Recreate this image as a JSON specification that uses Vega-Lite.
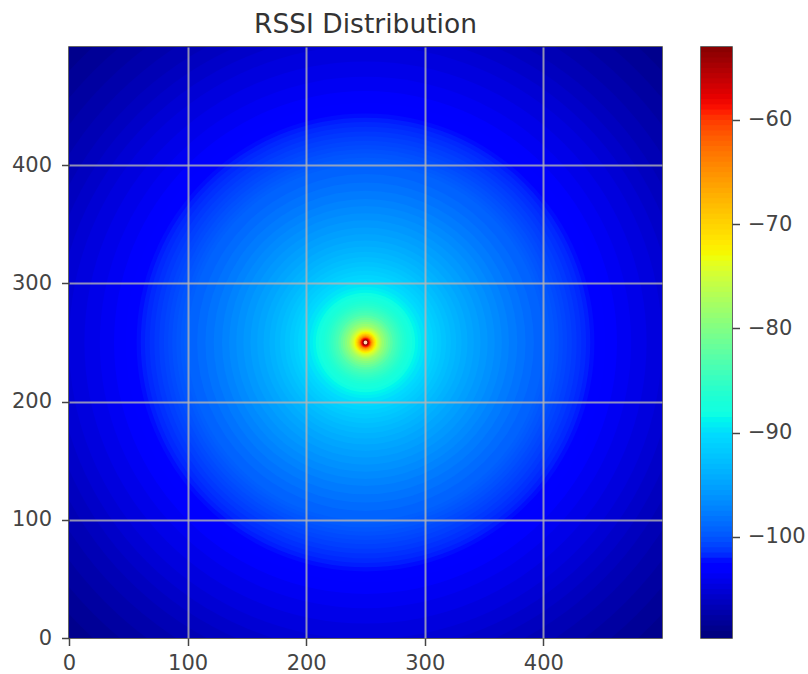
{"$schema":"https://vega.github.io/schema/vega-lite/v6.json","background":"white","padding":{"left":10,"top":10,"right":0,"bottom":0},"spacing":37,
"config":{"font":"DejaVu Sans","view":{"stroke":"#333333","strokeWidth":1.5},"title":{"font":"DejaVu Sans","fontSize":26.5,"fontWeight":"normal","color":"#333333","offset":9},
"axis":{"labelFont":"DejaVu Sans","labelFontSize":21,"labelColor":"#444444","tickColor":"#444444","tickSize":7.5,"tickWidth":1.5,"domain":false,"title":null,"labelPadding":9,"labelFlush":false,"labelAngle":0}},
"datasets":{"rings":[{"r":360,"v":-109.2},{"r":354,"v":-109},{"r":339,"v":-108.5},{"r":324,"v":-108},{"r":310,"v":-107.5},{"r":296,"v":-107},{"r":283,"v":-106.5},{"r":272,"v":-106},{"r":261,"v":-105.5},{"r":250,"v":-105},{"r":237,"v":-104.5},{"r":224,"v":-104},{"r":212,"v":-103.5},{"r":202,"v":-103},{"r":193,"v":-102.5},{"r":189.5,"v":-102.25},{"r":186,"v":-102},{"r":182,"v":-101.75},{"r":178,"v":-101.5},{"r":174,"v":-101.25},{"r":170,"v":-101},{"r":166.5,"v":-100.75},{"r":163,"v":-100.5},{"r":159.5,"v":-100.25},{"r":156,"v":-100},{"r":153,"v":-99.75},{"r":150,"v":-99.5},{"r":142,"v":-99},{"r":135,"v":-98.5},{"r":128,"v":-98},{"r":121,"v":-97.5},{"r":115,"v":-97},{"r":109,"v":-96.5},{"r":103,"v":-96},{"r":97,"v":-95.5},{"r":91.4,"v":-95},{"r":86,"v":-94.5},{"r":81,"v":-94},{"r":76.5,"v":-93.5},{"r":72,"v":-93},{"r":68,"v":-92.5},{"r":64,"v":-92},{"r":60.4,"v":-91.5},{"r":57,"v":-91},{"r":53.6,"v":-90.5},{"r":50.5,"v":-90},{"r":47,"v":-89.5},{"r":44.4,"v":-89},{"r":41.9,"v":-88.5},{"r":39.5,"v":-88},{"r":37.3,"v":-87.5},{"r":35.2,"v":-87},{"r":33.3,"v":-86.5},{"r":31.4,"v":-86},{"r":29.7,"v":-85.5},{"r":28,"v":-85},{"r":26.5,"v":-84.5},{"r":25,"v":-84},{"r":23,"v":-83},{"r":21,"v":-82},{"r":19.2,"v":-81},{"r":17.4,"v":-80},{"r":15.7,"v":-79},{"r":14,"v":-78},{"r":12.9,"v":-77},{"r":11.9,"v":-76},{"r":10.9,"v":-75},{"r":9.9,"v":-74},{"r":9,"v":-73},{"r":8.4,"v":-72},{"r":7.9,"v":-71},{"r":7.4,"v":-70},{"r":6.9,"v":-69},{"r":6.4,"v":-68},{"r":6,"v":-67},{"r":5.6,"v":-66},{"r":5.2,"v":-65},{"r":4.9,"v":-64},{"r":4.6,"v":-63},{"r":4.3,"v":-62},{"r":4.1,"v":-61},{"r":3.9,"v":-60},{"r":3.5,"v":-59},{"r":3,"v":-58},{"r":2.7,"v":-57},{"r":2.5,"v":-56},{"r":2.3,"v":-55},{"r":2.1,"v":-54},{"r":1.9,"v":-53},{"r":1.6,"v":-52}],
"bar":[{"v":-109.7,"e":-108.9},{"v":-109,"e":-108.4},{"v":-108.5,"e":-107.9},{"v":-108,"e":-107.4},{"v":-107.5,"e":-106.9},{"v":-107,"e":-106.4},{"v":-106.5,"e":-105.9},{"v":-106,"e":-105.4},{"v":-105.5,"e":-104.9},{"v":-105,"e":-104.4},{"v":-104.5,"e":-103.9},{"v":-104,"e":-103.4},{"v":-103.5,"e":-102.9},{"v":-103,"e":-102.4},{"v":-102.5,"e":-101.9},{"v":-102,"e":-101.4},{"v":-101.5,"e":-100.9},{"v":-101,"e":-100.4},{"v":-100.5,"e":-99.9},{"v":-100,"e":-99.4},{"v":-99.5,"e":-98.9},{"v":-99,"e":-98.4},{"v":-98.5,"e":-97.9},{"v":-98,"e":-97.4},{"v":-97.5,"e":-96.9},{"v":-97,"e":-96.4},{"v":-96.5,"e":-95.9},{"v":-96,"e":-95.4},{"v":-95.5,"e":-94.9},{"v":-95,"e":-94.4},{"v":-94.5,"e":-93.9},{"v":-94,"e":-93.4},{"v":-93.5,"e":-92.9},{"v":-93,"e":-92.4},{"v":-92.5,"e":-91.9},{"v":-92,"e":-91.4},{"v":-91.5,"e":-90.9},{"v":-91,"e":-90.4},{"v":-90.5,"e":-89.9},{"v":-90,"e":-89.4},{"v":-89.5,"e":-88.9},{"v":-89,"e":-88.4},{"v":-88.5,"e":-87.9},{"v":-88,"e":-87.4},{"v":-87.5,"e":-86.9},{"v":-87,"e":-86.4},{"v":-86.5,"e":-85.9},{"v":-86,"e":-85.4},{"v":-85.5,"e":-84.9},{"v":-85,"e":-84.4},{"v":-84.5,"e":-83.9},{"v":-84,"e":-83.4},{"v":-83.5,"e":-82.9},{"v":-83,"e":-82.4},{"v":-82.5,"e":-81.9},{"v":-82,"e":-81.4},{"v":-81.5,"e":-80.9},{"v":-81,"e":-80.4},{"v":-80.5,"e":-79.9},{"v":-80,"e":-79.4},{"v":-79.5,"e":-78.9},{"v":-79,"e":-78.4},{"v":-78.5,"e":-77.9},{"v":-78,"e":-77.4},{"v":-77.5,"e":-76.9},{"v":-77,"e":-76.4},{"v":-76.5,"e":-75.9},{"v":-76,"e":-75.4},{"v":-75.5,"e":-74.9},{"v":-75,"e":-74.4},{"v":-74.5,"e":-73.9},{"v":-74,"e":-73.4},{"v":-73.5,"e":-72.9},{"v":-73,"e":-72.4},{"v":-72.5,"e":-71.9},{"v":-72,"e":-71.4},{"v":-71.5,"e":-70.9},{"v":-71,"e":-70.4},{"v":-70.5,"e":-69.9},{"v":-70,"e":-69.4},{"v":-69.5,"e":-68.9},{"v":-69,"e":-68.4},{"v":-68.5,"e":-67.9},{"v":-68,"e":-67.4},{"v":-67.5,"e":-66.9},{"v":-67,"e":-66.4},{"v":-66.5,"e":-65.9},{"v":-66,"e":-65.4},{"v":-65.5,"e":-64.9},{"v":-65,"e":-64.4},{"v":-64.5,"e":-63.9},{"v":-64,"e":-63.4},{"v":-63.5,"e":-62.9},{"v":-63,"e":-62.4},{"v":-62.5,"e":-61.9},{"v":-62,"e":-61.4},{"v":-61.5,"e":-60.9},{"v":-61,"e":-60.4},{"v":-60.5,"e":-59.9},{"v":-60,"e":-59.4},{"v":-59.5,"e":-58.9},{"v":-59,"e":-58.4},{"v":-58.5,"e":-57.9},{"v":-58,"e":-57.4},{"v":-57.5,"e":-56.9},{"v":-57,"e":-56.4},{"v":-56.5,"e":-55.9},{"v":-56,"e":-55.4},{"v":-55.5,"e":-54.9},{"v":-55,"e":-54.4},{"v":-54.5,"e":-53.9},{"v":-54,"e":-53.4},{"v":-53.5,"e":-53}]},
"hconcat":[
{"title":"RSSI Distribution","width":593,"height":591,"data":{"name":"rings"},
"mark":{"type":"circle","opacity":1,"clip":true},
"encoding":{
"x":{"datum":250,"type":"quantitative","scale":{"domain":[0,500],"nice":false},"axis":{"values":[0,100,200,300,400],"grid":true,"gridColor":"#b4b4b4","gridWidth":2,"gridOpacity":{"condition":{"test":"datum.value===0","value":0},"value":0.8},"labelPadding":7,"zindex":1}},
"y":{"datum":250,"type":"quantitative","scale":{"domain":[0,500],"nice":false},"axis":{"values":[0,100,200,300,400],"grid":true,"gridColor":"#b4b4b4","gridWidth":2,"gridOpacity":{"condition":{"test":"datum.value===0","value":0},"value":0.8},"labelPadding":10,"zindex":1}},
"size":{"field":"r","type":"quantitative","legend":null,"scale":{"type":"pow","exponent":2,"domain":[0,360],"range":[0,729200]}},
"color":{"field":"v","type":"quantitative","legend":null,"scale":{"clamp":true,"domain":[-109.7,-103.46,-102.61,-90.42,-89.86,-88.44,-73.41,-72.85,-72.28,-59.24,-58.1,-53,-52.9],"range":["#000080","#0000ff","#0000ff","#00dbff","#00e6f7","#15ffe2","#eeff08","#f7f600","#ffec00","#ff1300","#e80000","#800000","#ffffff"]}}}},
{"width":31,"height":591,"data":{"name":"bar"},
"mark":{"type":"rect","clip":true},
"encoding":{
"y":{"field":"v","type":"quantitative","scale":{"domain":[-109.7,-53],"nice":false,"zero":false},"axis":{"orient":"right","values":[-100,-90,-80,-70,-60],"grid":false,"labelPadding":8}},
"y2":{"field":"e"},
"color":{"field":"v","type":"quantitative","legend":null,"scale":{"clamp":true,"domain":[-109.7,-103.46,-102.61,-90.42,-89.86,-88.44,-73.41,-72.85,-72.28,-59.24,-58.1,-53,-52.9],"range":["#000080","#0000ff","#0000ff","#00dbff","#00e6f7","#15ffe2","#eeff08","#f7f600","#ffec00","#ff1300","#e80000","#800000","#ffffff"]}}}}
],"resolve":{"scale":{"color":"independent","size":"independent"}}}
